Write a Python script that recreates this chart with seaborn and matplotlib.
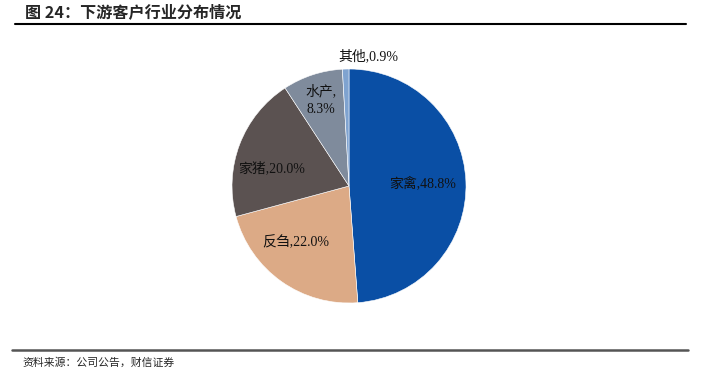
import matplotlib
matplotlib.use("Agg")
import matplotlib.pyplot as plt
import seaborn as sns
import numpy as np
from matplotlib.lines import Line2D

categories = ["家禽", "反刍", "家猪", "水产", "其他"]
values = [48.8, 22.0, 20.0, 8.3, 0.9]
label_texts = ["家禽,48.8%", "反刍,22.0%", "家猪,20.0%", "水产,\n8.3%", "其他,0.9%"]
colors = ["#0a4fa5", "#dcaa86", "#5b5251", "#7f8b9c", "#7fa3d0"]
label_dist = [0.63, 0.66, 0.68, 0.77, 1.12]
label_shift = [0, -8, 8, 0, -10]  # angle shift in degrees for label placement

sns.set_theme(style="white")
plt.rcParams['font.family'] = ['Liberation Serif', 'Noto Sans CJK SC', 'DejaVu Sans']

W, H = 709, 381
fig = plt.figure(figsize=(W / 100, H / 100), dpi=100)
cx, cy, r = 349, 186, 117
ax = fig.add_axes([(cx - r) / W, (H - cy - r) / H, 2 * r / W, 2 * r / H])
wedges, _ = ax.pie(values, colors=sns.color_palette(colors), startangle=90, counterclock=False,
                   wedgeprops=dict(edgecolor="white", linewidth=0.4))
ax.set_xlim(-1, 1)
ax.set_ylim(-1, 1)
ax.set_aspect("equal")
ax.axis("off")

for w, txt, d, s in zip(wedges, label_texts, label_dist, label_shift):
    ang = np.deg2rad((w.theta1 + w.theta2) / 2 + s)
    ax.text(d * np.cos(ang), d * np.sin(ang), txt, ha="center", va="center",
            fontsize=10, color="#111111", linespacing=1.5)

# title and rules
fig.text(25 / W, 1 - 12 / H, "图 24：下游客户行业分布情况", fontsize=11.6, fontweight="bold",
         ha="left", va="center", family=['Noto Sans CJK SC', 'DejaVu Sans'])
fig.add_artist(Line2D([15 / W, 686 / W], [1 - 23.5 / H, 1 - 23.5 / H], color="black", linewidth=1.5))
fig.add_artist(Line2D([12 / W, 688 / W], [1 - 349.5 / H, 1 - 349.5 / H], color="#555555", linewidth=1.8))
fig.text(22 / W, 1 - 363 / H, "资料来源：公司公告，财信证券", fontsize=7.8, fontstyle="italic",
         ha="left", va="center", family=['Noto Sans CJK SC', 'DejaVu Sans'])

fig.savefig("out.png", dpi=100)
